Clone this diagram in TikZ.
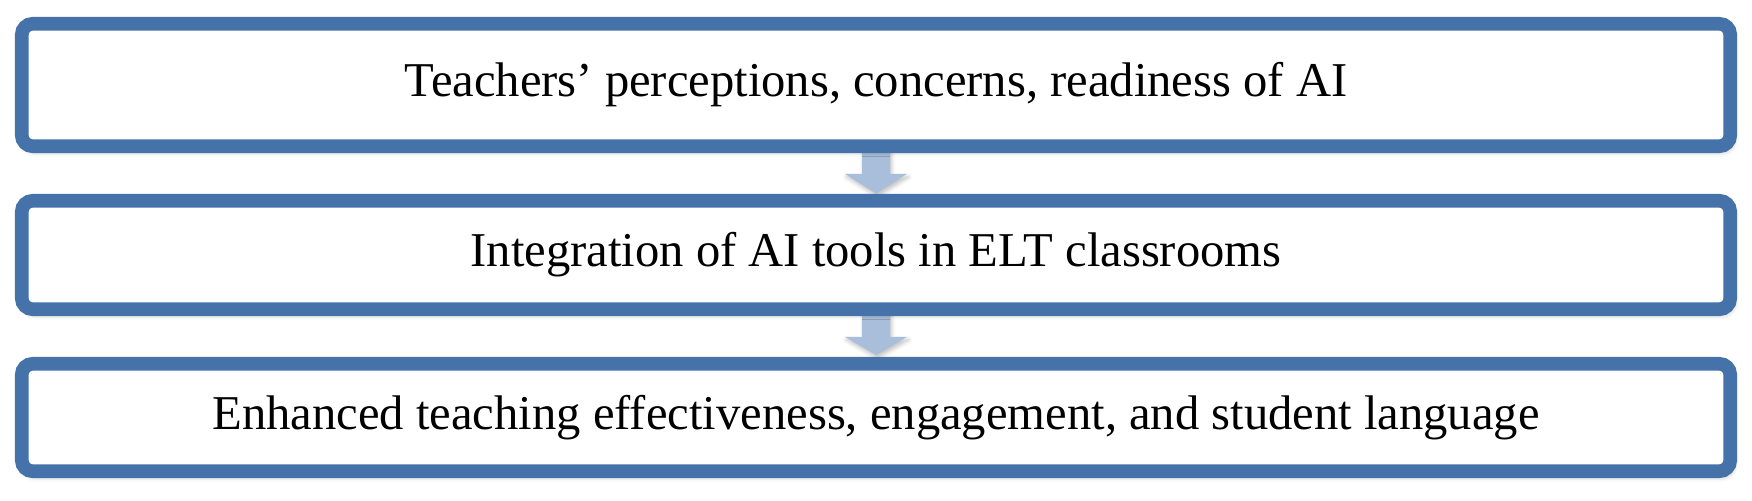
\documentclass[tikz,border=0pt]{standalone}
\usepackage{fontspec}
\setmainfont{Liberation Serif}
\usetikzlibrary{shadows.blur,calc}
\definecolor{boxblue}{HTML}{4573A9}
\definecolor{arrowblue}{HTML}{A9BEDA}
\tikzset{
  stagebox/.style={draw=boxblue, line width=6.8pt, fill=white, rounded corners=5.5pt,
    minimum width=854.25pt, inner sep=0pt, align=center,
    font=\fontsize{24.3}{29}\selectfont,
    blur shadow={shadow xshift=1.2pt, shadow yshift=-2.2pt, shadow blur radius=3pt, shadow opacity=35}},
  flowarrow/.style={fill=arrowblue, draw=none,
    blur shadow={shadow xshift=0.8pt, shadow yshift=-1.5pt, shadow blur radius=2pt, shadow opacity=25}}
}
\begin{document}
\begin{tikzpicture}[x=0.5pt,y=-0.5pt]
\useasboundingbox (0,0) rectangle (1752,501);
% arrows drawn first (behind boxes)
\coordinate (a1s) at (876,140);
\coordinate (a2s) at (876,303);
\path[flowarrow] ($(a1s)+(-14,0)$) -- ($(a1s)+(14,0)$) -- ($(a1s)+(14,34)$) -- ($(a1s)+(31,34)$)
  -- ($(a1s)+(0,53.5)$) -- ($(a1s)+(-31,34)$) -- ($(a1s)+(-14,34)$) -- cycle;
\path[flowarrow] ($(a2s)+(-14,0)$) -- ($(a2s)+(14,0)$) -- ($(a2s)+(14,34)$) -- ($(a2s)+(31,34)$)
  -- ($(a2s)+(0,52)$) -- ($(a2s)+(-31,34)$) -- ($(a2s)+(-14,34)$) -- cycle;
\node[stagebox, minimum height=61.25pt] (b1) at (876,85) {Teachers’ perceptions, concerns, readiness of AI};
\node[stagebox, minimum height=54.25pt] (b2) at (876,255) {Integration of AI tools in ELT classrooms};
\node[stagebox, minimum height=53.75pt] (b3) at (876,417.5) {Enhanced teaching effectiveness, engagement, and student language};
\end{tikzpicture}
\end{document}
